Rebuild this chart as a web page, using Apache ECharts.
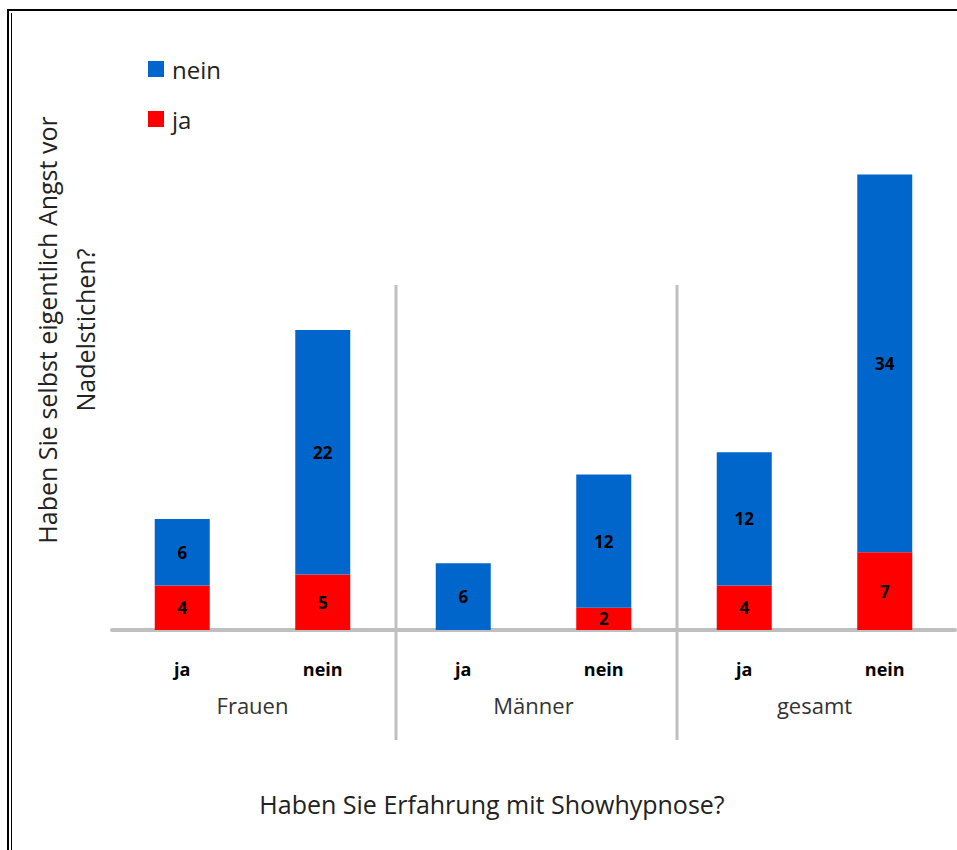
<!DOCTYPE html>
<html>
<head>
<meta charset="utf-8">
<script src="https://cdn.jsdelivr.net/npm/echarts@6/dist/echarts.min.js"></script>
<style>
  html, body { margin: 0; padding: 0; background: #fff; }
  #chart { width: 957px; height: 850px; }
</style>
</head>
<body>
<div id="chart"></div>
<script>
// Answer categories (Showhypnose experience) within each group
const categories = ['ja', 'nein', 'ja', 'nein', 'ja', 'nein'];
const groups = ['Frauen', 'Männer', 'gesamt'];
// Stacked counts: fear of needles "ja" (bottom) and "nein" (top)
const jaValues = [4, 5, 0, 2, 4, 7];
const neinValues = [6, 22, 6, 12, 12, 34];

const FONT = 'Open Sans';
const chart = echarts.init(document.getElementById('chart'), null, { renderer: 'svg' });

const labelFmt = p => (p.value ? String(p.value) : '');
const barLabel = {
  show: true, position: 'inside', formatter: labelFmt,
  fontFamily: FONT, fontSize: 17, fontWeight: 'bold', color: '#000'
};

chart.setOption({
  animation: false,
  backgroundColor: '#ffffff',
  textStyle: { fontFamily: FONT },
  grid: { left: 112, width: 843, top: 130, bottom: 220 },
  legend: {
    orient: 'vertical',
    left: 143,
    top: 52,
    itemWidth: 16,
    itemHeight: 16,
    itemGap: 26,
    icon: 'rect',
    data: ['nein', 'ja'],
    textStyle: { fontFamily: FONT, fontSize: 24, color: '#222', padding: [0, 0, 0, 3] }
  },
  xAxis: [
    {
      type: 'category',
      data: categories,
      axisLine: { lineStyle: { color: '#BFBFBF', width: 4 } },
      axisTick: { show: false },
      axisLabel: { margin: 30, fontFamily: FONT, fontSize: 18, fontWeight: 'bold', color: '#000' }
    },
    {
      type: 'category',
      data: groups,
      position: 'bottom',
      axisLine: { show: false },
      axisTick: { show: false },
      axisLabel: { margin: 64, fontFamily: FONT, fontSize: 22, color: '#333' }
    }
  ],
  yAxis: { type: 'value', min: 0, max: 45, show: false, splitLine: { show: false } },
  series: [
    {
      name: 'ja',
      type: 'bar',
      stack: 'total',
      data: jaValues,
      barWidth: 55,
      itemStyle: { color: '#FF0000' },
      label: barLabel
    },
    {
      name: 'nein',
      type: 'bar',
      stack: 'total',
      data: neinValues,
      barWidth: 55,
      itemStyle: { color: '#0066CC' },
      label: barLabel
    }
  ]
});

// Group separators between Frauen/Männer and Männer/gesamt, plus titles and frame
const px = i => chart.convertToPixel({ xAxisIndex: 0 }, i);
const sep1 = Math.round((px(1) + px(2)) / 2) + 3;
const sep2 = Math.round((px(3) + px(4)) / 2) + 3;
const sepStyle = { stroke: '#BFBFBF', lineWidth: 3 };

chart.setOption({
  graphic: [
    { type: 'line', shape: { x1: sep1, y1: 285, x2: sep1, y2: 740 }, style: sepStyle, z: 1 },
    { type: 'line', shape: { x1: sep2, y1: 285, x2: sep2, y2: 740 }, style: sepStyle, z: 1 },
    {
      type: 'text',
      x: 66, y: 330,
      rotation: Math.PI / 2,
      style: {
        text: 'Haben Sie selbst eigentlich Angst vor\nNadelstichen?',
        fontFamily: FONT, fontSize: 25, fill: '#222',
        align: 'center', verticalAlign: 'middle', lineHeight: 38
      }
    },
    {
      type: 'text',
      x: 492, y: 804,
      style: {
        text: 'Haben Sie Erfahrung mit Showhypnose?',
        fontFamily: FONT, fontSize: 25, fill: '#222',
        align: 'center', verticalAlign: 'middle'
      }
    },
    // page frame
    { type: 'rect', shape: { x: 7, y: 9, width: 960, height: 2 }, style: { fill: '#000' } },
    { type: 'rect', shape: { x: 7, y: 9, width: 2, height: 850 }, style: { fill: '#000' } },
    { type: 'rect', shape: { x: 11, y: 13, width: 1, height: 850 }, style: { fill: '#000' } }
  ]
});
</script>
</body>
</html>
